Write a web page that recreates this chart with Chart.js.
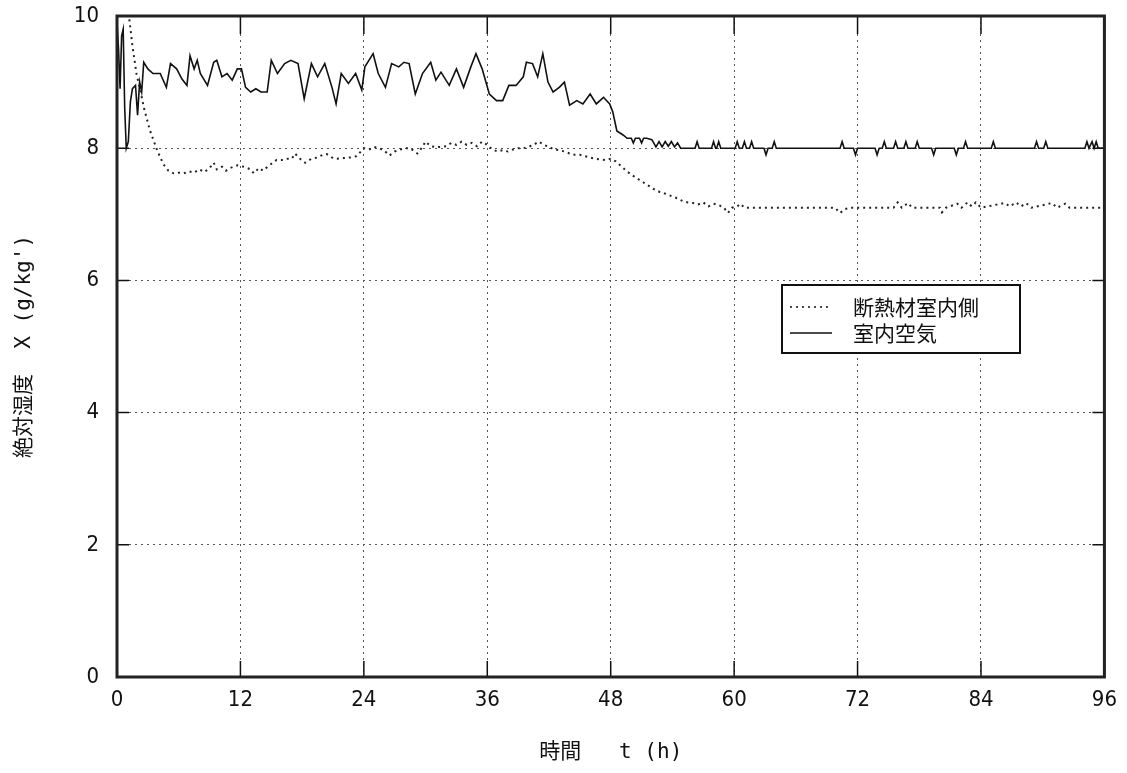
<!DOCTYPE html>
<html>
<head>
<meta charset="utf-8">
<script src="https://cdn.jsdelivr.net/npm/chart.js@4"></script>
<style>
  html, body { margin: 0; padding: 0; background: #fff; }
  #wrap { width: 1127px; height: 773px; }
</style>
</head>
<body>
<div id="wrap"><canvas id="humidChart" width="1127" height="773"></canvas></div>
<script>
// === DATA ===
const seriesLabels = ["断熱材室内側", "室内空気"];
const xTicks = [0, 12, 24, 36, 48, 60, 72, 84, 96];
const yTicks = [0, 2, 4, 6, 8, 10];

// 室内空気 (solid)
const airTimes = [
  0, 0.15, 0.3, 0.45, 0.6, 0.75, 0.9, 1.1, 1.3, 1.5, 1.8, 2.0, 2.2, 2.4, 2.6, 3.0, 3.5, 4.2, 4.8, 5.2,
  5.8, 6.3, 6.8, 7.1, 7.5, 7.8, 8.1, 8.8, 9.4, 9.7, 10.2, 10.7, 11.2, 11.7, 12.1, 12.5, 13.0, 13.5, 14.0, 14.6,
  15.0, 15.6, 16.3, 16.9, 17.6, 18.2, 18.9, 19.5, 20.2, 20.9, 21.3, 21.8, 22.5, 23.2, 23.8, 24.1, 24.9, 25.4, 26.1, 26.7,
  27.4, 27.9, 28.4, 29.0, 29.7, 30.5, 31.0, 31.5, 32.3, 33.0, 33.7, 34.4, 34.9, 35.5, 36.2, 36.9, 37.5, 38.1, 38.8, 39.5,
  39.8, 40.4, 40.9, 41.4, 41.9, 42.4, 43.0, 43.5, 44.0, 44.7, 45.3, 46.0, 46.6, 47.3, 47.9, 48.2, 48.6, 49.2, 49.6, 50.0,
  50.2, 50.4, 50.8, 51.0, 51.2, 51.5, 52.0, 52.4, 52.7, 53.0, 53.3, 53.6, 53.9, 54.2, 54.5, 54.8,
  56.2, 56.4, 56.6, 57.8, 58.0, 58.2, 58.3, 58.5, 58.7, 60.1, 60.3, 60.5, 60.8, 61.0, 61.2, 61.5, 61.7, 61.9,
  62.9, 63.1, 63.3, 63.7, 63.9, 64.1, 70.3, 70.5, 70.7, 71.6, 71.8, 72.0, 73.7, 73.9, 74.1, 74.4, 74.6, 74.8,
  75.5, 75.7, 75.9, 76.5, 76.7, 76.9, 77.6, 77.8, 78.0, 79.2, 79.4, 79.6, 81.4, 81.6, 81.8, 82.3, 82.5, 82.7,
  85.0, 85.2, 85.4, 89.2, 89.4, 89.6, 90.1, 90.3, 90.5, 94.1, 94.3, 94.5, 94.8, 95.0, 95.2, 95.4, 96
];
const airValues = [
  9.9, 9.5, 8.9, 9.7, 9.8, 8.6, 8.0, 8.1, 8.7, 8.9, 8.95, 8.5, 9.0, 8.85, 9.3, 9.2, 9.13, 9.13, 8.92, 9.28,
  9.2, 9.05, 8.95, 9.4, 9.2, 9.33, 9.13, 8.95, 9.3, 9.33, 9.08, 9.13, 9.03, 9.2, 9.2, 8.92, 8.85, 8.9, 8.85, 8.85,
  9.33, 9.13, 9.28, 9.33, 9.28, 8.75, 9.28, 9.08, 9.28, 8.92, 8.67, 9.13, 8.98, 9.13, 8.88, 9.23, 9.43, 9.13, 8.92, 9.28,
  9.23, 9.3, 9.28, 8.82, 9.13, 9.3, 9.03, 9.15, 8.95, 9.2, 8.92, 9.23, 9.43, 9.2, 8.82, 8.72, 8.72, 8.95, 8.95, 9.08,
  9.3, 9.28, 9.08, 9.43, 9.0, 8.85, 8.92, 9.0, 8.65, 8.72, 8.67, 8.82, 8.67, 8.77, 8.67, 8.55, 8.26, 8.2, 8.15, 8.15,
  8.08, 8.15, 8.15, 8.08, 8.15, 8.15, 8.13, 8.02, 8.1, 8.02, 8.1, 8.03, 8.1, 8.02, 8.08, 8.0,
  8.0, 8.1, 8.0, 8.0, 8.1, 8.0, 8.0, 8.1, 8.0, 8.0, 8.1, 8.0, 8.0, 8.1, 8.0, 8.0, 8.1, 8.0,
  8.0, 7.9, 8.0, 8.0, 8.1, 8.0, 8.0, 8.1, 8.0, 8.0, 7.9, 8.0, 8.0, 7.9, 8.0, 8.0, 8.1, 8.0,
  8.0, 8.1, 8.0, 8.0, 8.1, 8.0, 8.0, 8.1, 8.0, 8.0, 7.9, 8.0, 8.0, 7.9, 8.0, 8.0, 8.1, 8.0,
  8.0, 8.1, 8.0, 8.0, 8.1, 8.0, 8.0, 8.1, 8.0, 8.0, 8.1, 8.0, 8.1, 8.0, 8.1, 8.0, 8.0
];

// 断熱材室内側 (dotted)
const insTimes = [
  1.2, 1.5, 1.9, 2.3, 2.6, 3.2, 3.9, 4.5, 5.0, 5.5, 6.0, 6.5, 7.0, 7.5, 8.0, 8.5, 9.0, 9.4, 9.7, 10.2,
  10.6, 11.0, 11.7, 12.3, 13.0, 13.3, 13.8, 14.2, 14.8, 15.5, 16.0, 16.5, 17.0, 17.3, 17.8, 18.3, 18.9, 19.5, 20.0, 20.4,
  21.0, 21.4, 22.0, 22.7, 23.3, 24.0, 24.5, 25.0, 25.5, 26.0, 26.5, 27.0, 27.5, 28.0, 28.5, 29.2, 29.6, 30.0, 30.5, 31.0,
  31.5, 32.0, 32.5, 33.0, 33.5, 34.0, 34.5, 35.0, 35.5, 36.0, 36.5, 37.0, 37.5, 38.0, 38.5, 39.0, 39.5, 40.0, 40.5, 41.0,
  41.5, 42.0, 42.5, 43.0, 43.5, 44.0, 44.5, 45.0, 45.5, 46.0, 46.5, 47.0, 47.5, 48.0, 48.5, 49.0, 49.5, 50.0, 50.5, 51.0,
  51.5, 52.0, 52.5, 53.0, 53.5, 54.0, 54.5, 55.0, 55.5, 56.0, 56.5, 57.0, 57.5, 58.0, 58.5, 59.0, 59.4, 59.8, 60.3, 60.6,
  61.0, 69.8, 70.3, 70.8, 71.3, 75.5, 75.9, 76.3, 76.9, 77.3, 80.0, 80.2, 80.6, 81.7, 82.1, 82.7, 83.1, 83.5, 84.0, 86.3,
  86.8, 87.4, 87.9, 88.4, 88.9, 90.9, 91.4, 92.2, 92.6, 96
];
const insValues = [
  9.95, 9.55, 9.12, 8.85, 8.62, 8.27, 7.97, 7.76, 7.66, 7.62, 7.63, 7.62, 7.65, 7.63, 7.68, 7.64, 7.7, 7.78, 7.68, 7.72,
  7.66, 7.7, 7.74, 7.72, 7.68, 7.62, 7.7, 7.66, 7.74, 7.82, 7.82, 7.84, 7.84, 7.92, 7.84, 7.78, 7.84, 7.86, 7.9, 7.91,
  7.85, 7.84, 7.85, 7.86, 7.88, 8.0, 7.98, 8.02, 8.0, 7.96, 7.89, 7.95, 7.98, 8.0, 8.0, 7.92, 8.0, 8.1, 8.03, 8.02,
  8.02, 8.03, 8.08, 8.05, 8.1, 8.05, 8.08, 8.03, 8.1, 8.05, 7.98, 7.95, 7.97, 7.95, 7.98, 8.0, 8.0, 8.02, 8.05, 8.1,
  8.05, 8.02, 7.98, 7.97, 7.95, 7.92, 7.9, 7.9, 7.88, 7.86, 7.84, 7.83, 7.82, 7.84, 7.8, 7.73, 7.66, 7.6, 7.55, 7.5,
  7.45, 7.4, 7.35, 7.33, 7.3, 7.27, 7.24, 7.2, 7.18, 7.17, 7.15, 7.18, 7.12, 7.16, 7.14, 7.1, 7.02, 7.1, 7.12, 7.16,
  7.1, 7.1, 7.02, 7.08, 7.1, 7.1, 7.18, 7.1, 7.17, 7.1, 7.1, 7.03, 7.1, 7.16, 7.1, 7.18, 7.12, 7.18, 7.1, 7.17,
  7.12, 7.18, 7.12, 7.17, 7.1, 7.17, 7.1, 7.16, 7.1, 7.1
];

const toPoints = (xs, ys) => xs.map((x, i) => ({ x: x, y: ys[i] }));

// === PLOT FRAME + INNER TICKS ===
const framePlugin = {
  id: "frame",
  afterDraw(chart) {
    const { ctx, chartArea: a, scales } = chart;
    ctx.save();
    ctx.strokeStyle = "#111";
    ctx.lineWidth = 1.5;
    scales.x.ticks.forEach(t => {
      const px = scales.x.getPixelForValue(t.value);
      ctx.beginPath();
      ctx.moveTo(px, a.top); ctx.lineTo(px, a.top + 18);
      ctx.moveTo(px, a.bottom); ctx.lineTo(px, a.bottom - 16);
      ctx.stroke();
    });
    scales.y.ticks.forEach(t => {
      const py = scales.y.getPixelForValue(t.value);
      ctx.beginPath();
      ctx.moveTo(a.left, py); ctx.lineTo(a.left + 12, py);
      ctx.moveTo(a.right, py); ctx.lineTo(a.right - 12, py);
      ctx.stroke();
    });
    ctx.lineWidth = 3;
    ctx.strokeStyle = "#222";
    ctx.strokeRect(a.left, a.top, a.right - a.left, a.bottom - a.top);
    ctx.restore();
  }
};

// === LEGEND BOX ===
const legendBox = {
  id: "legendBox",
  afterDraw(chart) {
    const { ctx, chartArea: a } = chart;
    const left = a.left + 665, top = a.top + 269, w = 238, h = 68;
    ctx.save();
    ctx.fillStyle = "#fff";
    ctx.fillRect(left, top, w, h);
    ctx.strokeStyle = "#111";
    ctx.lineWidth = 2;
    ctx.strokeRect(left, top, w, h);
    ctx.font = "21px 'Noto Sans CJK JP', sans-serif";
    ctx.textBaseline = "middle";
    chart.data.datasets.forEach((ds, i) => {
      const cy = top + 22 + i * 26;
      ctx.beginPath();
      ctx.setLineDash(ds.borderDash || []);
      ctx.lineWidth = 1.5;
      ctx.strokeStyle = "#111";
      ctx.moveTo(left + 8, cy); ctx.lineTo(left + 50, cy);
      ctx.stroke();
      ctx.setLineDash([]);
      ctx.fillStyle = "#111";
      ctx.fillText(ds.label, left + 71, cy);
    });
    ctx.restore();
  }
};

const tickFont = { family: "'Liberation Sans Narrow', 'DejaVu Sans Condensed', 'Noto Sans', sans-serif", size: 22 };
const titleFont = { family: "'DejaVu Sans Mono', 'Noto Sans CJK JP', monospace", size: 21 };

const ctx = document.getElementById("humidChart").getContext("2d");
new Chart(ctx, {
  type: "line",
  data: {
    datasets: [
      {
        label: seriesLabels[0],
        data: toPoints(insTimes, insValues),
        borderColor: "#222",
        borderWidth: 2,
        borderDash: [2, 4],
        pointRadius: 0,
        tension: 0,
        fill: false
      },
      {
        label: seriesLabels[1],
        data: toPoints(airTimes, airValues),
        borderColor: "#111",
        borderWidth: 1.6,
        pointRadius: 0,
        tension: 0,
        fill: false
      }
    ]
  },
  options: {
    responsive: false,
    animation: false,
    layout: { padding: { left: 0, right: 21, top: 16, bottom: 0 } },
    plugins: {
      legend: { display: false },
      tooltip: { enabled: false }
    },
    scales: {
      x: {
        type: "linear",
        min: 0,
        max: 96,
        afterBuildTicks: (scale) => { scale.ticks = xTicks.map(v => ({ value: v })); },
        afterFit: (scale) => { scale.height = 96; },
        grid: { color: "#555", lineWidth: 1, drawTicks: false },
        border: { display: false, dash: [2, 4] },
        ticks: { color: "#111", font: tickFont, padding: 10, maxRotation: 0 },
        title: { display: true, text: "時間   t (h)", color: "#111", font: titleFont, padding: { top: 0, bottom: 8 } }
      },
      y: {
        min: 0,
        max: 10,
        afterBuildTicks: (scale) => { scale.ticks = yTicks.map(v => ({ value: v })); },
        afterFit: (scale) => { scale.width = 117; },
        grid: { color: "#555", lineWidth: 1, drawTicks: true, tickLength: 16, tickColor: "rgba(0,0,0,0)" },
        border: { display: false, dash: [2, 4] },
        ticks: { color: "#111", font: tickFont, padding: 2 },
        title: { display: true, text: "絶対湿度  X (g/kg')", color: "#111", font: titleFont, padding: { top: 12, bottom: 0 } }
      }
    }
  },
  plugins: [framePlugin, legendBox]
});
</script>
</body>
</html>
